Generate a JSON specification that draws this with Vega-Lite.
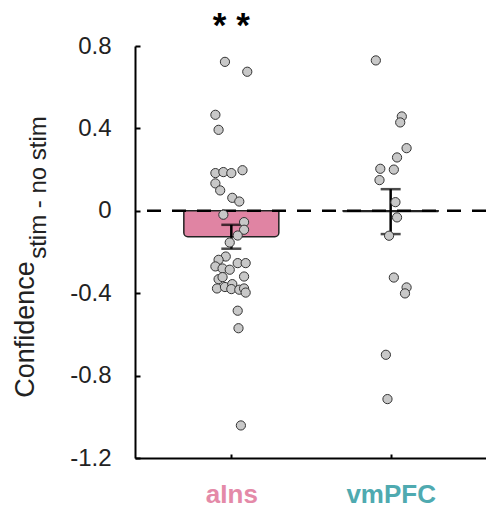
{
  "$schema": "https://vega.github.io/schema/vega-lite/v6.json",
  "width": 351,
  "height": 412,
  "autosize": {"type": "none"},
  "padding": {"left": 135, "top": 46, "right": 0, "bottom": 49},
  "config": {
    "view": {"stroke": null},
    "font": "Liberation Sans",
    "axis": {"grid": false, "domainColor": "black", "domainWidth": 2, "tickColor": "black", "tickWidth": 2, "labelColor": "#222222", "titleColor": "#222222", "titleFontWeight": "normal"}
  },
  "datasets": {
    "points": [
      {"region": "aIns", "pos": 0.96, "value": 0.723},
      {"region": "aIns", "pos": 1.10, "value": 0.675},
      {"region": "aIns", "pos": 0.90, "value": 0.466},
      {"region": "aIns", "pos": 0.92, "value": 0.393},
      {"region": "aIns", "pos": 0.90, "value": 0.183},
      {"region": "aIns", "pos": 0.95, "value": 0.188},
      {"region": "aIns", "pos": 1.00, "value": 0.183},
      {"region": "aIns", "pos": 1.07, "value": 0.197},
      {"region": "aIns", "pos": 0.90, "value": 0.133},
      {"region": "aIns", "pos": 0.93, "value": 0.099},
      {"region": "aIns", "pos": 1.006, "value": 0.063},
      {"region": "aIns", "pos": 1.05, "value": 0.045},
      {"region": "aIns", "pos": 0.95, "value": -0.019},
      {"region": "aIns", "pos": 1.08, "value": -0.055},
      {"region": "aIns", "pos": 1.08, "value": -0.092},
      {"region": "aIns", "pos": 1.04, "value": -0.12},
      {"region": "aIns", "pos": 0.99, "value": -0.154},
      {"region": "aIns", "pos": 0.965, "value": -0.222},
      {"region": "aIns", "pos": 0.92, "value": -0.238},
      {"region": "aIns", "pos": 0.90, "value": -0.27},
      {"region": "aIns", "pos": 0.945, "value": -0.28},
      {"region": "aIns", "pos": 0.99, "value": -0.286},
      {"region": "aIns", "pos": 1.04, "value": -0.254},
      {"region": "aIns", "pos": 1.09, "value": -0.254},
      {"region": "aIns", "pos": 0.92, "value": -0.332},
      {"region": "aIns", "pos": 0.945, "value": -0.322},
      {"region": "aIns", "pos": 1.08, "value": -0.319},
      {"region": "aIns", "pos": 0.91, "value": -0.377},
      {"region": "aIns", "pos": 0.96, "value": -0.37},
      {"region": "aIns", "pos": 1.006, "value": -0.356},
      {"region": "aIns", "pos": 1.0, "value": -0.38},
      {"region": "aIns", "pos": 1.05, "value": -0.383},
      {"region": "aIns", "pos": 1.08, "value": -0.377},
      {"region": "aIns", "pos": 1.09, "value": -0.397},
      {"region": "aIns", "pos": 1.04, "value": -0.485},
      {"region": "aIns", "pos": 1.045, "value": -0.57},
      {"region": "aIns", "pos": 1.06, "value": -1.042},
      {"region": "vmPFC", "pos": 1.907, "value": 0.73},
      {"region": "vmPFC", "pos": 2.07, "value": 0.458},
      {"region": "vmPFC", "pos": 2.06, "value": 0.429},
      {"region": "vmPFC", "pos": 2.10, "value": 0.304},
      {"region": "vmPFC", "pos": 2.04, "value": 0.259},
      {"region": "vmPFC", "pos": 1.935, "value": 0.204},
      {"region": "vmPFC", "pos": 2.02, "value": 0.2},
      {"region": "vmPFC", "pos": 1.93, "value": 0.149},
      {"region": "vmPFC", "pos": 2.03, "value": 0.042},
      {"region": "vmPFC", "pos": 2.04, "value": -0.032},
      {"region": "vmPFC", "pos": 1.99, "value": -0.121},
      {"region": "vmPFC", "pos": 2.02, "value": -0.324},
      {"region": "vmPFC", "pos": 2.10, "value": -0.372},
      {"region": "vmPFC", "pos": 2.09, "value": -0.401},
      {"region": "vmPFC", "pos": 1.97, "value": -0.699},
      {"region": "vmPFC", "pos": 1.98, "value": -0.914}
    ],
    "summary": [
      {"region": "aIns", "pos": 1, "mean": -0.126, "lo": -0.184, "hi": -0.068, "sig": "* *"},
      {"region": "vmPFC", "pos": 2, "mean": -0.004, "lo": -0.113, "hi": 0.105, "sig": ""}
    ]
  },
  "resolve": {"scale": {"y": "independent"}, "axis": {"x": "shared"}},
  "layer": [
    {
      "data": {"name": "summary"},
      "mark": {"type": "bar", "size": 95, "stroke": "#222222", "strokeWidth": 1.5, "cornerRadiusBottomLeft": 4, "cornerRadiusBottomRight": 4},
      "encoding": {
        "x": {"field": "pos", "type": "quantitative", "scale": {"domain": [0.4268, 2.567], "nice": false, "zero": false}},
        "y": {"field": "mean", "type": "quantitative", "scale": {"domain": [-1.2, 0.8], "nice": false, "zero": false},
              "axis": {"orient": "left", "title": "stim - no stim", "titleFontSize": 24, "titleAngle": -90, "titleAlign": "center", "titleBaseline": "alphabetic", "titleX": -90, "titleY": 141, "labels": false, "ticks": false, "domain": false}},
        "y2": {"datum": 0},
        "color": {"field": "region", "type": "nominal", "scale": {"domain": ["aIns", "vmPFC"], "range": ["#E084A3", "#4FAAB0"]}, "legend": null}
      }
    },
    {
      "layer": [
        {
          "data": {"values": [{}]},
          "mark": {"type": "rule", "strokeDash": [14, 11], "strokeWidth": 2.5, "color": "black"},
          "encoding": {"y": {"datum": 0}}
        },
        {
          "data": {"name": "summary"},
          "mark": {"type": "rule", "strokeWidth": 2.5, "color": "black"},
          "encoding": {
            "x": {"field": "pos", "type": "quantitative"},
            "y": {"field": "lo", "type": "quantitative"},
            "y2": {"field": "hi"}
          }
        },
        {
          "data": {"name": "summary"},
          "mark": {"type": "tick", "orient": "horizontal", "size": 20, "thickness": 2.5, "color": "black"},
          "encoding": {
            "x": {"field": "pos", "type": "quantitative"},
            "y": {"field": "lo", "type": "quantitative"}
          }
        },
        {
          "data": {"name": "summary"},
          "mark": {"type": "tick", "orient": "horizontal", "size": 20, "thickness": 2.5, "color": "black"},
          "encoding": {
            "x": {"field": "pos", "type": "quantitative"},
            "y": {"field": "hi", "type": "quantitative"}
          }
        },
        {
          "data": {"name": "points"},
          "mark": {"type": "circle", "size": 85, "fill": "#C8C8C8", "stroke": "#333333", "strokeWidth": 1, "opacity": 1},
          "encoding": {
            "x": {"field": "pos", "type": "quantitative", "scale": {"domain": [0.4268, 2.567], "nice": false, "zero": false},
                  "axis": {"orient": "bottom", "values": [1, 2], "title": null, "tickSize": -4, "labelExpr": "datum.value == 1 ? 'aIns' : 'vmPFC'", "labelFontSize": 26, "labelFontWeight": "bold", "labelBaseline": "alphabetic", "labelPadding": 48,
                           "labelColor": {"condition": {"test": "datum.value == 1", "value": "#E48AA8"}, "value": "#4FAAB0"}}},
            "y": {"field": "value", "type": "quantitative", "scale": {"domain": [-1.2, 0.8], "nice": false, "zero": false},
                  "axis": {"orient": "left", "values": [-1.2, -0.8, -0.4, 0, 0.4, 0.8], "tickSize": -5, "labelPadding": 29, "labelFontSize": 24, "labelExpr": "datum.value == 0 ? '0' : (datum.value < 0 ? '-' : '') + format(abs(datum.value), '.1f')",
                           "title": "Confidence", "titleFontSize": 27, "titleAngle": -90, "titleAlign": "center", "titleBaseline": "alphabetic", "titleX": -102, "titleY": 283}}
          }
        },
        {
          "data": {"name": "summary"},
          "mark": {"type": "text", "fontSize": 35, "fontWeight": "bold", "baseline": "alphabetic", "align": "center", "color": "black"},
          "encoding": {
            "x": {"field": "pos", "type": "quantitative"},
            "y": {"datum": 0.842},
            "text": {"field": "sig"}
          }
        }
      ]
    }
  ]
}
